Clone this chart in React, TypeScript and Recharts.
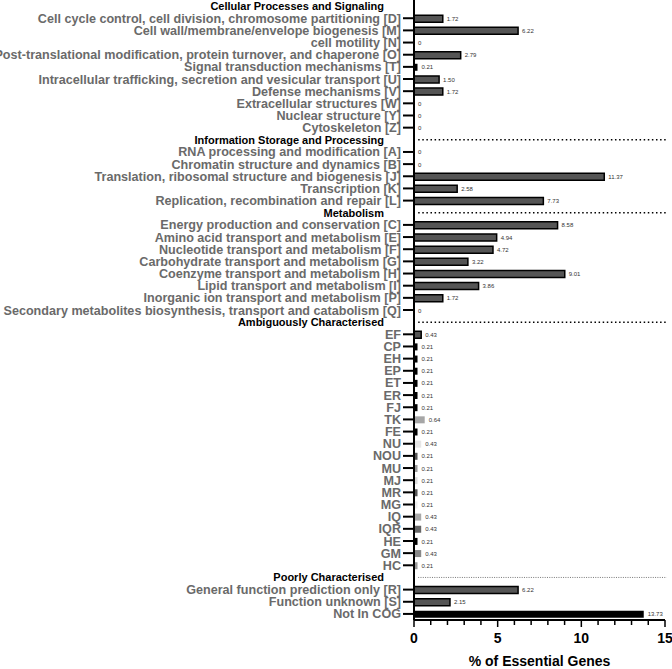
import React from 'react';
import { BarChart, Bar, XAxis, YAxis, Cell, LabelList, ReferenceLine } from 'recharts';

const headerCellular = 'Cellular Processes and Signaling';
const headerInfo = 'Information Storage and Processing';
const headerMetabolism = 'Metabolism';
const headerAmbiguous = 'Ambiguously Characterised';
const headerPoorly = 'Poorly Characterised';

const cellularCats = [
  'Cell cycle control, cell division, chromosome partitioning [D]',
  'Cell wall/membrane/envelope biogenesis [M]',
  'cell motility [N]',
  'Post-translational modification, protein turnover, and chaperone [O]',
  'Signal transduction mechanisms [T]',
  'Intracellular trafficking, secretion and vesicular transport [U]',
  'Defense mechanisms [V]',
  'Extracellular structures [W]',
  'Nuclear structure [Y]',
  'Cytoskeleton [Z]',
];
const cellularVals = [1.72, 6.22, 0, 2.79, 0.21, 1.5, 1.72, 0, 0, 0];

const infoCats = [
  'RNA processing and modification [A]',
  'Chromatin structure and dynamics [B]',
  'Translation, ribosomal structure and biogenesis [J]',
  'Transcription [K]',
  'Replication, recombination and repair [L]',
];
const infoVals = [0, 0, 11.37, 2.58, 7.73];

const metabolismCats = [
  'Energy production and conservation [C]',
  'Amino acid transport and metabolism [E]',
  'Nucleotide transport and metabolism [F]',
  'Carbohydrate transport and metabolism [G]',
  'Coenzyme transport and metabolism [H]',
  'Lipid transport and metabolism [I]',
  'Inorganic ion transport and metabolism [P]',
  'Secondary metabolites biosynthesis, transport and catabolism [Q]',
];
const metabolismVals = [8.58, 4.94, 4.72, 3.22, 9.01, 3.86, 1.72, 0];

const ambiguousCats = ['EF', 'CP', 'EH', 'EP', 'ET', 'ER', 'FJ', 'TK', 'FE', 'NU', 'NOU', 'MU', 'MJ', 'MR', 'MG', 'IQ', 'IQR', 'HE', 'GM', 'HC'];
const ambiguousVals = [0.43, 0.21, 0.21, 0.21, 0.21, 0.21, 0.21, 0.64, 0.21, 0.43, 0.21, 0.21, 0.21, 0.21, 0.21, 0.43, 0.43, 0.21, 0.43, 0.21];

const poorlyCats = ['General function prediction only [R]', 'Function unknown [S]', 'Not In COG'];
const poorlyVals = [6.22, 2.15, 13.73];

const xTicks = [0, 1, 2, 3, 4, 5, 6, 7, 8, 9, 10, 11, 12, 13, 14, 15];

const headers = [headerCellular, headerInfo, headerMetabolism, headerAmbiguous, headerPoorly];

const section = (header: string, cats: string[], vals: number[]) => [
  { name: header, value: null as number | null },
  ...cats.map((c, i) => ({ name: c, value: vals[i] as number | null })),
];

const data = [
  ...section(headerCellular, cellularCats, cellularVals),
  ...section(headerInfo, infoCats, infoVals),
  ...section(headerMetabolism, metabolismCats, metabolismVals),
  ...section(headerAmbiguous, ambiguousCats, ambiguousVals),
  ...section(headerPoorly, poorlyCats, poorlyVals),
];

// styles per category (fill, outlined)
const DARK = '#555555';
const styleMap: Record<string, { fill: string; outline: boolean }> = {
  EF: { fill: DARK, outline: true },
  CP: { fill: '#000', outline: false },
  EH: { fill: '#000', outline: false },
  EP: { fill: '#000', outline: false },
  ET: { fill: '#000', outline: false },
  ER: { fill: '#000', outline: false },
  FJ: { fill: '#000', outline: false },
  TK: { fill: '#a6a6a6', outline: false },
  FE: { fill: '#000', outline: false },
  NU: { fill: '#e6e6e6', outline: false },
  NOU: { fill: '#555', outline: false },
  MU: { fill: '#999', outline: false },
  MJ: { fill: '#dcdcdc', outline: false },
  MR: { fill: '#555', outline: false },
  MG: { fill: '#ededed', outline: false },
  IQ: { fill: '#a8a8a8', outline: false },
  IQR: { fill: '#666', outline: false },
  HE: { fill: '#000', outline: false },
  GM: { fill: '#888', outline: false },
  HC: { fill: '#999', outline: false },
  'Not In COG': { fill: '#000', outline: false },
  'Signal transduction mechanisms [T]': { fill: '#000', outline: false },
};

const FONT = '"Liberation Sans", Arial, sans-serif';

const YTick = (props: any) => {
  const { x, y, payload } = props;
  const name = payload.value as string;
  if (headers.includes(name)) {
    return (
      <text x={x - 30} y={y} dy="0.35em" textAnchor="end" fontFamily={FONT} fontWeight="bold" fontSize={11} fill="#000">
        {name}
      </text>
    );
  }
  return (
    <g>
      <line x1={x - 11} x2={x} y1={y} y2={y} stroke="#000" strokeWidth={2} />
      <text x={x - 13} y={y} dy="0.36em" textAnchor="end" fontFamily={FONT} fontWeight="bold" fontSize={12.6} fill="#6a6a6a">
        {name}
      </text>
    </g>
  );
};

const XTick = (props: any) => {
  const { x, y, payload } = props;
  const v = payload.value as number;
  const major = v % 5 === 0;
  return (
    <g>
      <line x1={x} x2={x} y1={y} y2={y + (major ? 7 : 5)} stroke="#000" strokeWidth={1.5} />
      {major && (
        <text x={x} y={y + 18} dy="0.35em" textAnchor="middle" fontFamily={FONT} fontWeight="bold" fontSize={14} fill="#000">
          {v}
        </text>
      )}
    </g>
  );
};

const ValueLabel = (props: any) => {
  const { x, y, width, height, value } = props;
  if (value === null || value === undefined) return null;
  const txt = Number(value) === 0 ? '0' : Number(value).toFixed(2);
  const w = Number(value) === 0 ? 0 : width;
  return (
    <text x={x + w + 4} y={y + height / 2} dy="0.35em" fontFamily={FONT} fontSize={6} fill="#333">
      {txt}
    </text>
  );
};

export default function App() {
  return (
    <div style={{ position: 'absolute', left: 0, top: 0 }}>
      <BarChart
        width={672}
        height={669}
        data={data}
        layout="vertical"
        margin={{ top: 0, right: 7, bottom: 0, left: 0 }}
        barCategoryGap={0}
      >
        <XAxis
          type="number"
          domain={[0, 15]}
          ticks={xTicks}
          interval={0}
          height={49}
          tickSize={0}
          tickMargin={0}
          tickLine={false}
          tick={<XTick />}
          axisLine={{ stroke: '#000', strokeWidth: 2 }}
          allowDataOverflow
          label={{
            value: '% of Essential Genes',
            position: 'insideBottom',
            offset: 3,
            style: { fontFamily: FONT, fontWeight: 'bold', fontSize: 14, fill: '#000' },
          }}
        />
        <YAxis
          type="category"
          dataKey="name"
          width={414}
          interval={0}
          tickSize={0}
          tickMargin={0}
          tickLine={false}
          tick={<YTick />}
          axisLine={{ stroke: '#000', strokeWidth: 2 }}
        />
        {[headerInfo, headerMetabolism, headerAmbiguous].map((h) => (
          <ReferenceLine
            key={h}
            segment={[{ x: 0.25, y: h }, { x: 15.1, y: h }]}
            stroke="#000"
            strokeWidth={1.5}
            strokeDasharray="1.5 2.6"
            ifOverflow="visible"
          />
        ))}
        <ReferenceLine
          segment={[{ x: 0.25, y: headerPoorly }, { x: 15.1, y: headerPoorly }]}
          stroke="#777"
          strokeWidth={1}
          strokeDasharray="1 1.3"
          ifOverflow="visible"
        />
        <Bar
          dataKey="value"
          barSize={7}
          isAnimationActive={false}
          minPointSize={(v: any) => (v === 0 ? 0.01 : 0)}
        >
          {data.map((d) => {
            const s = styleMap[d.name];
            if (d.value === 0) {
              return <Cell key={d.name} fill="none" stroke="none" strokeWidth={0} />;
            }
            if (s) {
              return (
                <Cell
                  key={d.name}
                  fill={s.fill}
                  stroke={s.outline ? '#000' : 'none'}
                  strokeWidth={s.outline ? 1.5 : 0}
                />
              );
            }
            return <Cell key={d.name} fill={DARK} stroke="#000" strokeWidth={1.5} />;
          })}
          <LabelList dataKey="value" content={<ValueLabel />} />
        </Bar>
      </BarChart>
    </div>
  );
}
